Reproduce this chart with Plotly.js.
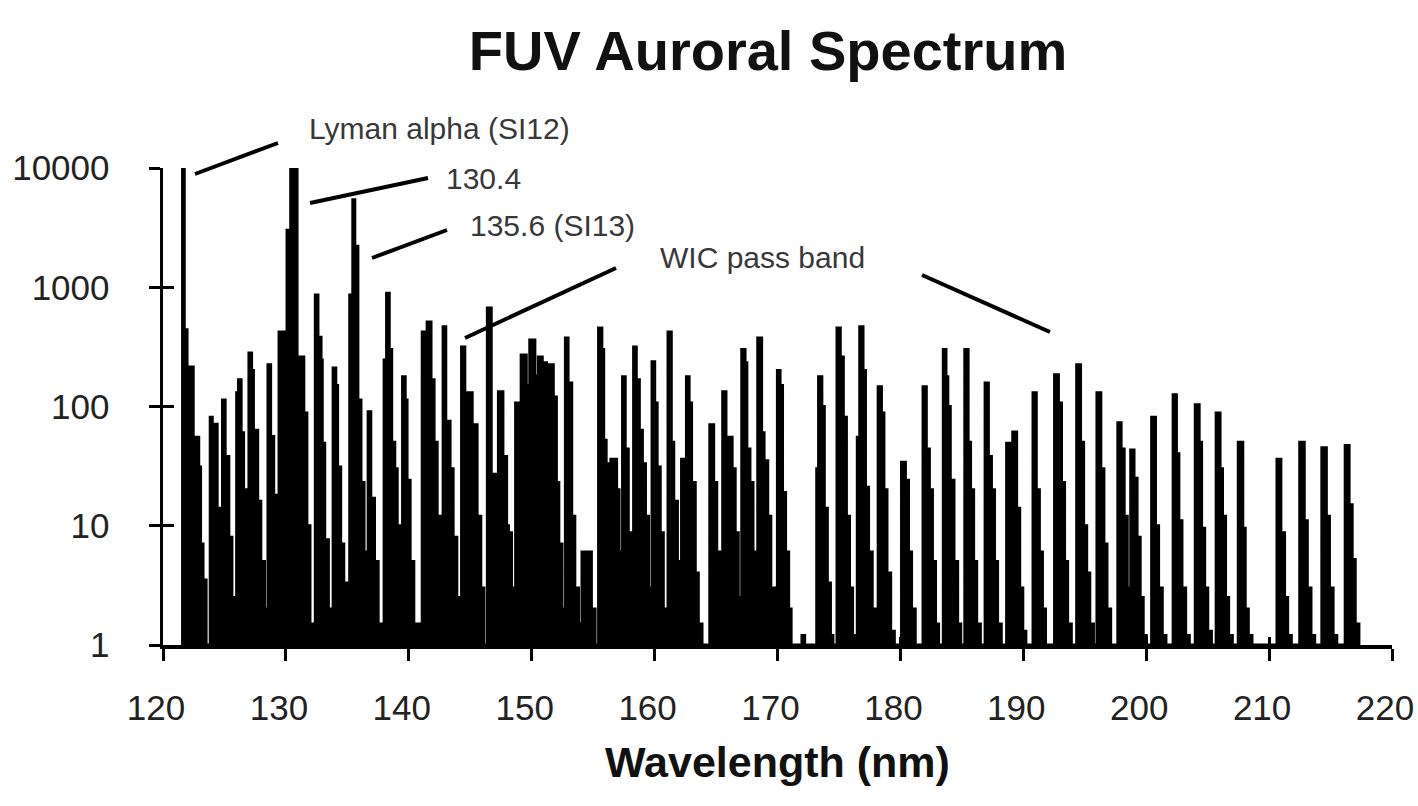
<!DOCTYPE html>
<html>
<head>
<meta charset="utf-8">
<script src="https://cdn.plot.ly/plotly-3.0.1.min.js"></script>
<style>
  html, body { margin: 0; padding: 0; background: #fff; }
  #chart { width: 1418px; height: 806px; }
</style>
</head>
<body>
<div id="chart"></div>
<script>
// ---- data: [wavelength (nm), intensity] ----
const spec120_140 = [
  [121.5,1],[121.6,10000],[121.72,440],[121.95,214],[122.45,55],[122.9,31],[123.05,7],[123.25,3.5],[123.5,1],
  [123.85,81],[124.0,50],[124.2,71],[124.4,14],[124.6,4],[124.75,1.5],
  [124.85,113],[125.05,38],[125.35,8],[125.6,2.5],[125.85,1.2],
  [126.0,130],[126.15,167],[126.35,60],[126.55,20],[126.75,2.9],[126.9,1.2],
  [127.0,281],[127.2,200],[127.35,63],[127.7,16],[127.95,5],[128.25,2],[128.45,1],
  [128.55,223],[128.75,56],[129.0,18],[129.25,5],
  [129.45,420],[130.1,3000],[130.4,10000],[130.9,260],[131.45,88],[131.7,10],[131.95,1.5],
  [132.4,860],[132.6,380],[132.85,245],[132.95,49],[133.15,7.6],[133.45,2],[133.7,1],
  [133.85,210],[134.05,150],[134.2,31],[134.45,7],[134.7,3.3],[135.0,1],
  [135.2,860],[135.45,5400],[135.6,2200],[135.85,113],[136.1,23],[136.35,6],[136.55,2],
  [136.7,90],[136.9,17],[137.2,5],[137.5,1.5],
  [138.0,245],[138.2,890],[138.4,300],[138.6,50],[138.85,30],[139.05,10],[139.3,3],
  [139.5,177],[139.7,113],[139.85,24],[140.1,5],[140.4,1.5],[140.9,1]
];
const spec140_160 = [
  [141.1,420],[141.35,200],[141.5,510],[141.8,167],[142.05,50],[142.3,12],[142.55,3],
  [142.8,465],[143.0,75],[143.35,30],[143.6,8],[143.9,2.5],[144.15,1.2],
  [144.3,315],[144.55,130],[145.15,70],[145.55,12],[145.85,3],[146.1,1],
  [146.4,670],[146.7,27],[147.1,8],
  [147.3,133],[147.65,38],[147.95,10],[148.1,8.7],[148.35,3],[148.55,1.5],
  [148.7,107],[149.15,270],[149.55,150],[149.85,360],[150.25,180],[150.55,260],[150.85,232],
  [151.2,150],[151.45,223],[151.75,120],[152.0,23],[152.2,7],[152.45,2],
  [152.75,375],[152.95,157],[153.25,12],[153.5,3],[153.8,1.5],
  [154.1,6],[154.35,3],[154.55,6],[154.85,2],[155.15,1],
  [155.45,455],[155.7,300],[155.85,52],[156.05,33],[156.3,8],[156.45,36],[156.9,20],[157.1,6],[157.3,2],
  [157.4,177],[157.6,44],[157.85,8.7],[158.1,3],
  [158.3,315],[158.5,167],[158.75,63],[159.0,33],[159.25,12],[159.5,3],[159.7,1.5],
  [159.8,237],[160.0,107],[160.2,31],[160.45,8.7],[160.7,2],[161.0,1]
];
const spec160_180 = [
  [161.1,420],[161.35,50],[161.55,16],[161.85,5],[162.2,36],[162.45,10],
  [162.6,177],[162.8,107],[163.0,23],[163.3,4],[163.55,1.5],[163.85,1],
  [164.5,70],[164.8,23],[165.05,6],[165.3,2],
  [165.55,133],[165.8,55],[166.3,30],[166.55,8.7],[166.8,2.5],[167.0,1.2],
  [167.1,300],[167.35,232],[167.5,44],[167.75,23],[168.0,6],[168.2,2],
  [168.4,375],[168.7,60],[168.9,35],[169.2,12],[169.45,3],[169.75,1.3],
  [170.0,200],[170.2,150],[170.4,19],[170.65,6],[170.9,2],[171.1,1],
  [172.0,1.2],[172.2,1],
  [173.2,30],[173.35,177],[173.6,100],[173.8,14],[174.05,3.3],[174.3,1.2],[174.5,1],
  [174.85,455],[175.1,260],[175.35,81],[175.6,12],[175.85,3],[176.1,1.2],[176.3,1],
  [176.5,55],[176.7,465],[176.95,200],[177.15,21],[177.4,6],[177.7,2],[177.95,1],
  [178.2,146],[178.45,88],[178.65,20],[178.9,4],[179.2,1.3],[179.5,1],
  [180.1,34],[180.4,24],[180.65,6],[180.9,2],[181.2,1]
];
const spec180_200 = [
  [181.85,146],[182.1,44],[182.35,20],[182.6,5],[182.85,1.5],[183.1,1],
  [183.5,300],[183.7,177],[183.85,100],[184.05,24],[184.35,5],[184.65,1.5],[184.9,1],
  [185.25,300],[185.5,50],[185.7,20],[185.95,5],[186.2,1.5],[186.5,1],
  [186.9,157],[187.15,38],[187.4,20],[187.65,5],[187.9,1.5],[188.2,1],
  [188.65,49],[188.9,25],[189.15,61],[189.45,14],[189.7,3],[189.95,1.3],[190.2,1],
  [190.8,130],[191.05,20],[191.3,6],[191.55,2],[191.8,1],
  [192.55,184],[192.85,107],[193.1,23],[193.35,5],[193.6,1.5],[193.9,1],
  [194.35,223],[194.65,50],[194.9,10],[195.15,4],[195.4,1.5],[195.7,1],
  [196.0,130],[196.3,30],[196.55,7],[196.8,2],[197.1,1],
  [197.7,73],[197.95,44],[198.2,12],[198.45,3],
  [198.75,43],[199.0,25],[199.25,8],[199.5,2.5],[199.75,1.2],[200.0,1],
  [200.45,81],[200.75,10],[201.0,3],[201.3,1.2],[201.6,1]
];
const spec200_220 = [
  [202.2,125],[202.45,40],[202.65,11],[202.9,3],[203.2,1.2],[203.5,1],
  [204.0,103],[204.3,50],[204.5,9.5],[204.75,3],[205.0,1.3],[205.3,1],
  [205.7,88],[206.0,30],[206.2,12],[206.45,2.5],[206.7,1.2],[207.0,1],
  [207.5,50],[207.85,9.5],[208.05,2],[208.3,1.2],[208.6,1],
  [210.65,36],[210.95,8.7],[211.25,2.5],[211.5,1.2],[211.8,1],
  [212.5,50],[212.85,11],[213.1,3],[213.4,1.2],[213.7,1],
  [214.3,45],[214.65,12],[214.9,3],[215.2,1.2],[215.5,1],
  [216.2,47],[216.5,15],[216.75,5.2],[217.0,1.5],[217.3,1]
];

const yTickValues = [1, 10, 100, 1000, 10000];
const yTickLabels = ['1', '10', '100', '1000', '10000'];
const xTickValues = [120, 130, 140, 150, 160, 170, 180, 190, 200, 210, 220];
const chartTitle = 'FUV Auroral Spectrum';
const xTitle = 'Wavelength (nm)';
const labelTexts = ['Lyman alpha (SI12)', '130.4', '135.6 (SI13)', 'WIC pass band'];

// ---- layout helpers ----
const M = { l: 163, r: 26, t: 168, b: 161 };
const PW = 1418 - M.l - M.r, PH = 806 - M.t - M.b;
const px = x => (x - M.l) / PW;
const py = y => (806 - M.b - y) / PH;
const FONT = 'Liberation Sans, Arial, Helvetica, sans-serif';

const all = spec120_140.concat(spec140_160, spec160_180, spec180_200, spec200_220);

const traces = [
  {
    x: all.map(d => d[0]),
    y: all.map(d => d[1]),
    type: 'scatter',
    mode: 'lines',
    line: { color: '#000', width: 3.2, shape: 'hv' },
    fill: 'toself',
    fillcolor: '#000',
    hoverinfo: 'x+y',
    showlegend: false
  },
  { x: [], y: [], xaxis: 'x2', yaxis: 'y2', type: 'scatter', mode: 'lines', showlegend: false, hoverinfo: 'skip' }
];

const lineStyle = { color: '#000', width: 4 };
const seg = (x0, y0, x1, y1) => ({
  type: 'line', xref: 'paper', yref: 'paper',
  x0: px(x0), y0: py(y0), x1: px(x1), y1: py(y1), line: lineStyle
});
const lab = (i, x, y) => ({
  text: labelTexts[i], xref: 'paper', yref: 'paper', x: px(x), y: py(y),
  xanchor: 'left', yanchor: 'middle', showarrow: false,
  font: { family: FONT, size: 30, color: '#383838' }
});

const layout = {
  width: 1418, height: 806,
  margin: M,
  paper_bgcolor: '#fff', plot_bgcolor: '#fff',
  font: { family: FONT, color: '#222' },
  title: {
    text: chartTitle, xref: 'container', yref: 'container',
    x: 768 / 1418, y: 1 - 50 / 806, xanchor: 'center', yanchor: 'middle',
    font: { family: FONT, size: 56, weight: 700, color: '#111' }
  },
  xaxis: {
    range: [120, 220], tickvals: xTickValues,
    showline: true, linecolor: '#000', linewidth: 3.5,
    ticks: 'outside', ticklen: 12, tickwidth: 3, tickcolor: '#000',
    ticklabelstandoff: 17, ticklabelshift: -7, ticklabeloverflow: 'allow',
    tickfont: { family: FONT, size: 35, color: '#222' },
    showgrid: false, zeroline: false,
    title: { text: xTitle, standoff: 22, font: { family: FONT, size: 43, weight: 700, color: '#111' } }
  },
  yaxis: {
    type: 'log', range: [0, 4], tickvals: yTickValues, ticktext: yTickLabels,
    showline: true, linecolor: '#000', linewidth: 3.5,
    ticks: 'outside', ticklen: 11, tickwidth: 3, tickcolor: '#000',
    ticklabelstandoff: 32,
    tickfont: { family: FONT, size: 35, color: '#222' },
    showgrid: false, zeroline: false
  },
  xaxis2: {
    overlaying: 'x', anchor: 'y', range: [120, 220], tickvals: xTickValues,
    ticks: 'inside', ticklen: 8, tickwidth: 3, tickcolor: '#000',
    showticklabels: false, showgrid: false, zeroline: false, showline: false
  },
  yaxis2: {
    overlaying: 'y', anchor: 'x', type: 'log', range: [0, 4], tickvals: yTickValues,
    ticks: 'inside', ticklen: 11, tickwidth: 3, tickcolor: '#000',
    showticklabels: false, showgrid: false, zeroline: false, showline: false
  },
  shapes: [
    seg(195, 174, 278, 143),
    seg(310, 203, 428, 178),
    seg(372, 258, 447, 230),
    seg(465, 338, 616, 268),
    seg(922, 275, 1050, 332)
  ],
  annotations: [
    lab(0, 307, 128),
    lab(1, 444, 178),
    lab(2, 468, 225),
    lab(3, 658, 257)
  ]
};

Plotly.newPlot('chart', traces, layout, { displayModeBar: false, staticPlot: true });
</script>
</body>
</html>
